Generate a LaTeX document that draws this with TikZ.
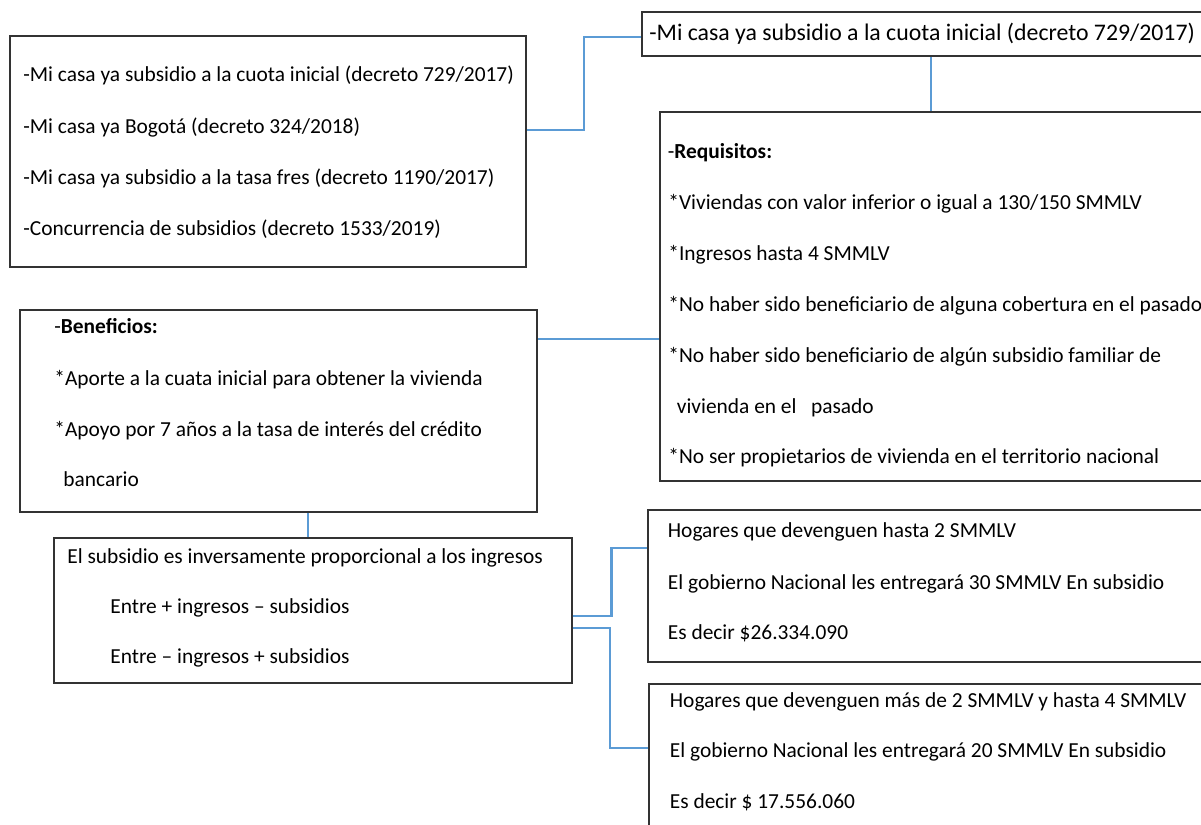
\documentclass[tikz,border=0pt]{standalone}
\usepackage{fontspec}
\setmainfont{Carlito}
\usetikzlibrary{fit}
\definecolor{linkblue}{RGB}{91,155,213}
\tikzset{
	box/.style={draw=black!80,line width=0.8pt,inner sep=0pt},
	link/.style={draw=linkblue,line width=1.4pt},
	txt/.style={anchor=base west,inner sep=0pt,font=\fontsize{10.7}{13}\selectfont},
	bigtxt/.style={txt,font=\fontsize{11.9}{14}\selectfont},
}

\begin{document}
\begin{tikzpicture}[x=0.5pt,y=-0.5pt]
	\clip (0,0) rectangle (1201,825);
	% cajas
	\node [box,fit={(10,36) (526,267)}] (programas) {};
	\node [box,fit={(642,12) (1220,56)}] (cuota) {};
	\node [box,fit={(660,112) (1220,481)}] (requisitos) {};
	\node [box,fit={(20,310) (537,512)}] (beneficios) {};
	\node [box,fit={(54,538) (572,683)}] (ingresos) {};
	\node [box,fit={(648,510) (1220,662)}] (hastados) {};
	\node [box,fit={(649,684) (1220,840)}] (hastacuatro) {};
	% conectores
	\draw [link] (programas.east |- 0,130) -- (584,130) |- (cuota.west |- 0,37);
	\draw [link] (cuota.south -| 931,0) -- (requisitos.north -| 931,0);
	\draw [link] (beneficios.east |- 0,339) -- (requisitos.west |- 0,339);
	\draw [link] (beneficios.south -| 308,0) -- (ingresos.north -| 308,0);
	\draw [link] (ingresos.east |- 0,616) -- (611.5,616) |- (hastados.west |- 0,548);
	\draw [link] (ingresos.east |- 0,628) -- (610,628) |- (hastacuatro.west |- 0,748);
	% textos
	\node [txt] (prog1) at (23,81.7) {-Mi casa ya subsidio a la cuota inicial (decreto 729/2017)};
	\node [txt] (prog2) at (23,133.3) {-Mi casa ya Bogotá (decreto 324/2018)};
	\node [txt] (prog3) at (23,184) {-Mi casa ya subsidio a la tasa fres (decreto 1190/2017)};
	\node [txt] (prog4) at (23,235) {-Concurrencia de subsidios (decreto 1533/2019)};
	\node [bigtxt] (cuota1) at (649,40) {-Mi casa ya subsidio a la cuota inicial (decreto 729/2017)};
	\node [txt] (req0) at (667.5,158.3) {-\textbf{Requisitos:}};
	\node [txt] (req1) at (668,209) {*Viviendas con valor inferior o igual a 130/150 SMMLV};
	\node [txt] (req2) at (668,260) {*Ingresos hasta 4 SMMLV};
	\node [txt] (req3) at (668,311) {*No haber sido beneficiario de alguna cobertura en el pasado};
	\node [txt] (req4) at (668,362) {*No haber sido beneficiario de algún subsidio familiar de};
	\node [txt] (req5) at (676.5,413) {vivienda en el\ \ \ pasado};
	\node [txt] (req6) at (668,463) {*No ser propietarios de vivienda en el territorio nacional};
	\node [txt] (ben0) at (54,333.3) {-\textbf{Beneficios:}};
	\node [txt] (ben1) at (54,385) {*Aporte a la cuata inicial para obtener la vivienda};
	\node [txt] (ben2) at (54,436.7) {*Apoyo por 7 años a la tasa de interés del crédito};
	\node [txt] (ben3) at (63,486.7) {bancario};
	\node [txt] (ing1) at (67,563.3) {El subsidio es inversamente proporcional a los ingresos};
	\node [txt] (ing2) at (110,613.3) {Entre + ingresos – subsidios};
	\node [txt] (ing3) at (110,663.3) {Entre – ingresos + subsidios};
	\node [txt] (dos1) at (667.5,537.8) {Hogares que devenguen hasta 2 SMMLV};
	\node [txt] (dos2) at (667.5,589) {El gobierno Nacional les entregará 30 SMMLV En subsidio};
	\node [txt] (dos3) at (667.5,639.7) {Es decir \$26.334.090};
	\node [txt] (cua1) at (669.5,707.5) {Hogares que devenguen más de 2 SMMLV y hasta 4 SMMLV};
	\node [txt] (cua2) at (669.5,757.7) {El gobierno Nacional les entregará 20 SMMLV En subsidio};
	\node [txt] (cua3) at (669.5,808) {Es decir \$ 17.556.060};
\end{tikzpicture}
\end{document}
